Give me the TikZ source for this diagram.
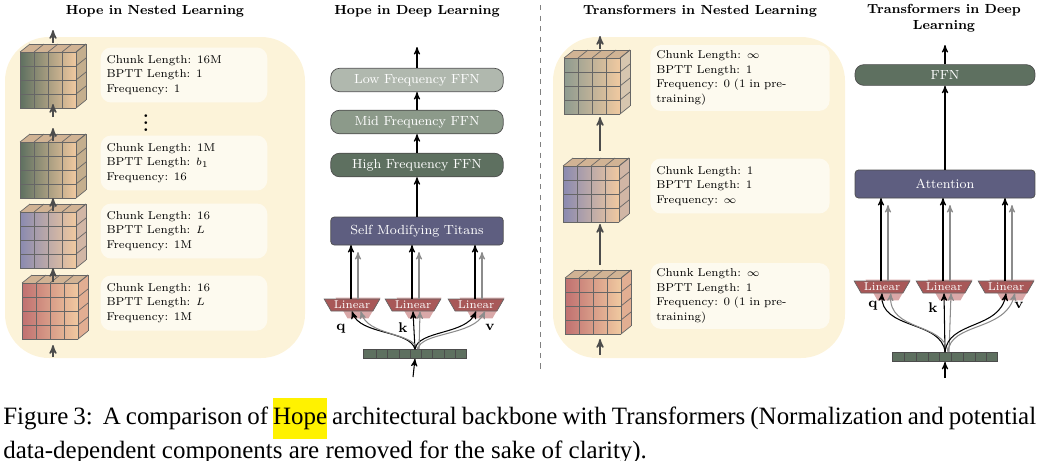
\documentclass[tikz,border=0pt]{standalone}
\usepackage{fontspec}
\newfontfamily\capfont{Liberation Serif}
\usepackage{amsmath,amssymb}
\usetikzlibrary{arrows,shapes.geometric,positioning}
\definecolor{cpanel}{HTML}{FCF3D9}
\definecolor{cpeach}{HTML}{F0C9A0}
\definecolor{cgreen}{HTML}{5E7060}
\definecolor{cgreenmid}{HTML}{8C9A8A}
\definecolor{cgreenlow}{HTML}{B0B8AE}
\definecolor{cblue}{HTML}{5E5E80}
\definecolor{cbluet}{HTML}{8A8AB0}
\definecolor{cred}{HTML}{A85858}
\definecolor{credt}{HTML}{C07070}
\definecolor{cpink}{HTML}{D9A8A8}
\newcommand{\nlcube}[3]{% x, y of front face corner, tint colour
  \fill[cpeach!85!black!90] (#1,#2)--(#1+10,#2-8)--(#1+66,#2-8)--(#1+56,#2)--cycle;
  \fill[cpeach!70!#3] (#1+56,#2)--(#1+66,#2-8)--(#1+66,#2+48)--(#1+56,#2+56)--cycle;
  \shade[left color=#3,right color=cpeach] (#1,#2) rectangle (#1+56,#2+56);
  \foreach \i in {0,...,4}{
    \draw[black!60,thin] (#1+14*\i,#2)--(#1+14*\i+10,#2-8);
    \draw[black!60,thin] (#1+56,#2+14*\i)--(#1+66,#2+14*\i-8);
    \draw[black!60,thin] (#1+14*\i,#2)--(#1+14*\i,#2+56);
    \draw[black!60,thin] (#1,#2+14*\i)--(#1+56,#2+14*\i);}
  \draw[black!60,thin] (#1+10,#2-8)--(#1+66,#2-8)--(#1+66,#2+48);}
\begin{document}
\begin{tikzpicture}[x=0.02cm,y=-0.02cm,>=stealth',
  title/.style={font=\fontsize{7.5}{9}\selectfont\bfseries,align=center},
  info/.style={fill=white,fill opacity=0.6,text opacity=1,rounded corners=6pt,
    minimum width=3.3cm,minimum height=1.1cm,align=left,text width=3.1cm,
    font=\fontsize{6.5}{8.2}\selectfont},
  layer/.style={rounded corners=5pt,draw=black!70,text=white,minimum width=3.45cm,
    minimum height=0.4cm,font=\fontsize{7.5}{9}\selectfont},
  block/.style={rounded corners=2pt,draw=black!70,fill=cblue,text=white,
    minimum width=3.45cm,minimum height=0.56cm,font=\fontsize{7.5}{9}\selectfont},
  lin/.style={trapezium,shape border rotate=180,trapezium angle=60,fill=cred,draw=black!60,
    text=white,inner sep=1pt,minimum width=0.9cm,minimum height=0.24cm,
    font=\fontsize{6.5}{7}\selectfont},
  linshadow/.style={trapezium,shape border rotate=180,trapezium angle=60,fill=cpink,
    minimum width=0.9cm,minimum height=0.24cm,inner sep=1pt},
  flow/.style={->,thick,black!70},
  sig/.style={->,semithick},
  sigg/.style={->,semithick,black!45}]
\useasboundingbox (0,0) rectangle (1041,460);

% Hope in Nested Learning
\node[title] (t1) at (155,11) {Hope in Nested Learning};
\fill[cpanel,rounded corners=25pt] (5,37) rectangle (305,358);
\nlcube{20}{52}{cgreen}
\nlcube{20}{142}{cgreen}
\nlcube{20}{212}{cbluet}
\nlcube{22}{283}{credt}
\coordinate (h0) at (53,357); \coordinate (h0e) at (53,345);
\draw[flow] (h0) -- (h0e);
\draw[flow] (53,282) -- (53,268);
\draw[flow] (53,211) -- (53,198);
\draw[flow] (53,141) -- (53,128);
\draw[flow] (53,117) -- (53,104);
\draw[flow] (53,43) -- (53,30);
\node[info] (i1) at (184,75) {Chunk Length: 16M\\BPTT Length: 1\\Frequency: 1};
\node[font=\bfseries] (dots) at (146,118) {$\vdots$};
\node[info] (i2) at (184,163) {Chunk Length: 1M\\BPTT Length: $b_1$\\Frequency: 16};
\node[info] (i3) at (184,231) {Chunk Length: 16\\BPTT Length: $L$\\Frequency: 1M};
\node[info] (i4) at (184,303) {Chunk Length: 16\\BPTT Length: $L$\\Frequency: 1M};

% Hope in Deep Learning
\node[title] (t2) at (417,11) {Hope in Deep Learning};
\node[layer,fill=cgreenlow] (low) at (417,80) {Low Frequency FFN};
\node[layer,fill=cgreenmid] (mid) at (417,122) {Mid Frequency FFN};
\node[layer,fill=cgreen] (high) at (417,165) {High Frequency FFN};
\node[block] (titans) at (417,231) {Self Modifying Titans};
\coordinate (out1) at (417,47);
\draw[sig] (low) -- (out1);
\draw[sig] (mid) -- (low);
\draw[sig] (high) -- (mid);
\draw[sig] (titans) -- (high);
\foreach \n/\x in {q/352,k/413,v/476}{
  \node[linshadow] at (\x+6,308) {};
  \node[lin] (l\n) at (\x,305) {Linear};
  \draw[sig] (\x-1,299) -- (\x-1,245);
  \draw[sigg] (\x+6,299) -- (\x+6,252);}
\node[font=\bfseries\fontsize{8}{9}\selectfont] at (341,329) {q};
\node[font=\bfseries\fontsize{8}{9}\selectfont] at (403,328) {k};
\node[font=\bfseries\fontsize{8}{9}\selectfont] at (490,327) {v};
\node[fill=cgreen,draw=black!70,minimum width=2.05cm,minimum height=0.18cm,inner sep=0] (x1) at (415,354) {};
\foreach \i in {1,...,8} \draw[black!70] (365+\i*11.3,349) -- (365+\i*11.3,359);
\coordinate (in1) at (413,377);
\draw[sig] (in1) -- (x1.south);
\draw[sig] (x1.north) -- (lk.south);
\draw[sig] (x1.north) .. controls (410,330) and (360,335) .. (lq.south);
\draw[sigg] (x1.north) ++(3,0) .. controls (412,332) and (368,336) .. ([xshift=5pt]lq.south);
\draw[sig] (x1.north) .. controls (418,330) and (466,335) .. (lv.south);
\draw[sigg] (x1.north) ++(3,0) .. controls (420,332) and (474,336) .. ([xshift=5pt]lv.south);
\draw[sigg] (x1.north) ++(4,0) -- ([xshift=4pt]lk.south);

% separator
\draw[dashed,black!50] (540,5) -- (540,372);

% Transformers in Nested Learning
\node[title] (t3) at (700,11) {Transformers in Nested Learning};
\fill[cpanel,rounded corners=25pt] (553,37) rectangle (845,358);
\nlcube{564}{58}{cgreen!70}
\nlcube{563}{166}{cbluet}
\nlcube{565}{278}{credt}
\draw[flow] (600,355) -- (600,339);
\draw[flow] (600,265) -- (600,224);
\draw[flow] (600,151) -- (600,117);
\draw[flow] (600,49) -- (600,36);
\node[info,minimum width=3.55cm,text width=3.35cm] (j1) at (740,78) {Chunk Length: $\infty$\\BPTT Length: 1\\Frequency: 0 (1 in pre-training)};
\node[info,minimum width=3.55cm,text width=3.35cm] (j2) at (740,186) {Chunk Length: 1\\BPTT Length: 1\\Frequency: $\infty$};
\node[info,minimum width=3.55cm,text width=3.35cm] (j3) at (740,296) {Chunk Length: $\infty$\\BPTT Length: 1\\Frequency: 0 (1 in pre-training)};

% Transformers in Deep Learning
\node[title] (t4) at (944,18) {Transformers in Deep\\Learning};
\node[layer,fill=cgreen,minimum width=3.6cm] (ffn) at (945,75) {FFN};
\node[block,minimum width=3.6cm] (attn) at (945,184) {Attention};
\coordinate (out2) at (945,45);
\draw[sig] (ffn) -- (out2);
\draw[sig] (attn) -- (ffn);
\foreach \n/\x in {q/882,k/944,v/1006}{
  \node[linshadow] at (\x+6,290) {};
  \node[lin] (m\n) at (\x,287) {Linear};
  \draw[sig] (\x-1,281) -- (\x-1,198);
  \draw[sigg] (\x+6,281) -- (\x+6,205);}
\node[font=\bfseries\fontsize{8}{9}\selectfont] at (873,306) {q};
\node[font=\bfseries\fontsize{8}{9}\selectfont] at (933,308) {k};
\node[font=\bfseries\fontsize{8}{9}\selectfont] at (1019,305) {v};
\node[fill=cgreen,draw=black!70,minimum width=2.1cm,minimum height=0.18cm,inner sep=0] (x2) at (945,357) {};
\foreach \i in {1,...,8} \draw[black!70] (893+\i*11.7,352) -- (893+\i*11.7,362);
\coordinate (in2) at (945,378);
\draw[sig] (in2) -- (x2.south);
\draw[sig] (x2.north) -- (mk.south);
\draw[sigg] (x2.north) ++(4,0) -- ([xshift=4pt]mk.south);
\draw[sig] (x2.north) .. controls (942,320) and (880,330) .. (mq.south);
\draw[sigg] (x2.north) ++(3,0) .. controls (944,322) and (888,332) .. ([xshift=5pt]mq.south);
\draw[sig] (x2.north) .. controls (948,320) and (1000,330) .. (mv.south);
\draw[sigg] (x2.north) ++(3,0) .. controls (950,322) and (1006,332) .. ([xshift=5pt]mv.south);

% caption
\node[anchor=north west,inner sep=0,text width=20.66cm,align=justify,
  font=\capfont\fontsize{14.2}{17.2}\selectfont] (cap) at (3,398)
  {Figure 3:\ \ A comparison of \colorbox{yellow}{\strut\kern-3pt Hope\kern-3pt} architectural backbone with Transformers (Normalization and potential data-dependent components are removed for the sake of clarity).};
\end{tikzpicture}
\end{document}
